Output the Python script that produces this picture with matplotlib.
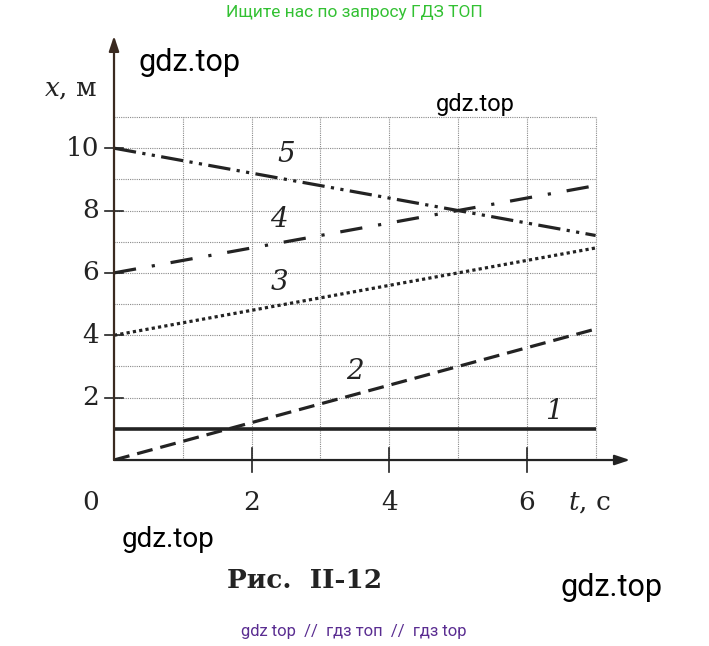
import numpy as np
import matplotlib
matplotlib.use('Agg')
from matplotlib import pyplot as plt

# Data
# --------------------------------------------------------------------------
t = [0, 7]
x1 = [1, 1]
x2 = [0, 4.2]
x3 = [4, 6.8]
x4 = [6, 8.8]
x5 = [10, 7.2]
curve_names = ['1', '2', '3', '4', '5']
label_t = [6.4, 3.5, 2.4, 2.4, 2.5]
label_x = [1.55, 2.85, 5.7, 7.7, 9.8]
xticks = [2, 4, 6]
yticks = [2, 4, 6, 8, 10]
# --------------------------------------------------------------------------

ink = '#232323'
serif = 'DejaVu Serif'

fig = plt.figure(figsize=(7.09, 6.46), dpi=100)
ax = fig.add_axes([0.1608, 0.2879, 0.7278, 0.6517])
ax.set_xlim(0, 7.5)
ax.set_ylim(0, 13.5)
ax.axis('off')

# grid
ax.vlines(np.arange(1, 8), 0, 11, colors='#8a8a8a', linestyles=(0, (1, 1)), lw=0.8)
ax.hlines(np.arange(1, 12), 0, 7, colors='#8a8a8a', linestyles=(0, (1, 1)), lw=0.8)

# axes with arrows
ax.annotate('', xy=(7.5, 0), xytext=(0, 0), annotation_clip=False,
            arrowprops=dict(arrowstyle='-|>,head_length=0.9,head_width=0.3', color=ink, lw=1.6,
                            shrinkA=0, shrinkB=0))
ax.annotate('', xy=(0, 13.6), xytext=(0, 0), annotation_clip=False,
            arrowprops=dict(arrowstyle='-|>,head_length=0.9,head_width=0.3', color='#3a2a20', lw=1.6,
                            shrinkA=0, shrinkB=0))

# ticks
for v in xticks:
    ax.plot([v, v], [-0.4, 0.4], color=ink, lw=1.2, clip_on=False)
    ax.text(v, -0.95, str(v), ha='center', va='top', fontsize=19, family=serif, color=ink)
for v in yticks:
    ax.plot([-0.13, 0.13], [v, v], color=ink, lw=1.2, clip_on=False)
    ax.text(-0.22, v, str(v), ha='right', va='center', fontsize=19, family=serif, color=ink)
ax.text(-0.22, -0.95, '0', ha='right', va='top', fontsize=19, family=serif, color=ink)

ax.text(6.6, -0.95, r'$t$, с', ha='left', va='top', fontsize=19, family=serif, color=ink,
        math_fontfamily='dejavuserif')
ax.text(-0.25, 11.9, r'$x$, м', ha='right', va='center', fontsize=19, family=serif, color=ink,
        math_fontfamily='dejavuserif')

# curves
ax.plot(t, x1, color=ink, lw=2.6, solid_capstyle='butt')
ax.plot(t, x2, color=ink, lw=2.3, dashes=(5, 2.5), dash_capstyle='butt')
ax.plot(t, x3, color=ink, lw=2.3, dashes=(1, 1), dash_capstyle='butt')
ax.plot(t, x4, color=ink, lw=2.3, dashes=(7, 5, 1, 5), dash_capstyle='butt')
ax.plot(t, x5, color=ink, lw=2.3, dashes=(7, 2, 1, 2, 1, 2), dash_capstyle='butt')

for name, lt, lx in zip(curve_names, label_t, label_x):
    ax.text(lt, lx, name, ha='center', va='center', fontsize=20, family=serif,
            style='italic', color=ink)

# caption
fig.text(0.43, 0.102, 'Рис.  II-12', ha='center', va='center', fontsize=19,
         family=serif, weight='bold', color=ink)

# watermarks
fig.text(0.5, 0.981, 'Ищите нас по запросу ГДЗ ТОП', ha='center', va='center',
         fontsize=12.5, color='#33c133', family='Roboto')
fig.text(0.267, 0.903, 'gdz.top', ha='center', va='center', fontsize=22, color='black', family='Roboto')
fig.text(0.671, 0.838, 'gdz.top', ha='center', va='center', fontsize=17, color='black', family='Roboto')
fig.text(0.237, 0.165, 'gdz.top', ha='center', va='center', fontsize=20, color='black', family='Roboto')
fig.text(0.863, 0.091, 'gdz.top', ha='center', va='center', fontsize=22, color='black', family='Roboto')
fig.text(0.499, 0.022, 'gdz top  //  гдз топ  //  гдз top', ha='center', va='center',
         fontsize=12, color='#5a2d91', family='Roboto')

fig.savefig('out.png', dpi=100, facecolor='white')
